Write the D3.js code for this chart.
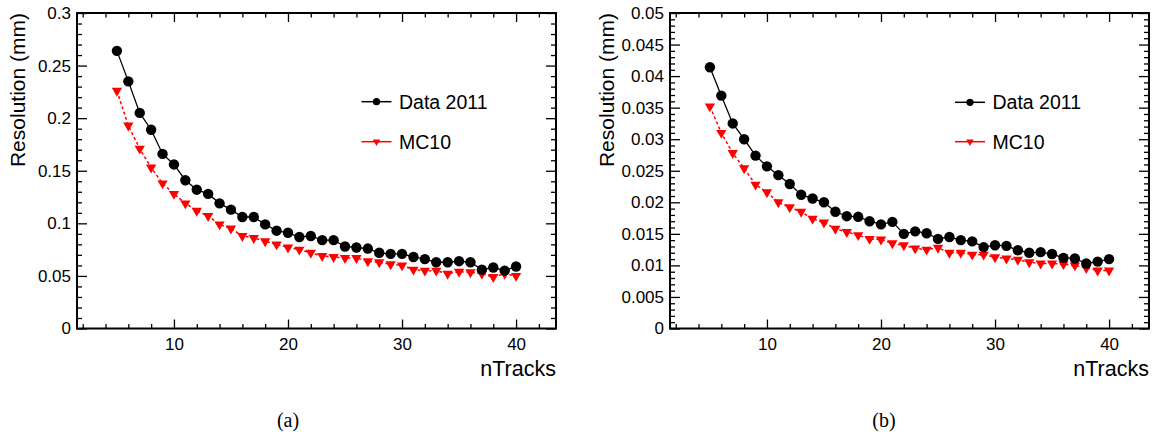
<!DOCTYPE html>
<html><head><meta charset="utf-8">
<script src="https://cdn.jsdelivr.net/npm/d3@7"></script>
<style>body{margin:0;background:#fff} svg{display:block}</style>
</head><body>
<svg id="c" width="1163" height="436"></svg>
<script>
// ---------- data ----------
const nTracks = [5,6,7,8,9,10,11,12,13,14,15,16,17,18,19,20,21,22,23,24,25,26,27,28,29,30,31,32,33,34,35,36,37,38,39,40];
const dataA = [0.264,0.235,0.205,0.189,0.166,0.156,0.141,0.132,0.128,0.119,0.113,0.106,0.106,0.099,0.093,0.091,0.087,0.088,0.084,0.084,0.078,0.077,0.076,0.072,0.071,0.071,0.068,0.066,0.063,0.063,0.064,0.063,0.056,0.058,0.055,0.059];
const mcA   = [0.226,0.193,0.171,0.153,0.138,0.128,0.119,0.112,0.107,0.099,0.095,0.088,0.086,0.083,0.080,0.077,0.075,0.072,0.069,0.068,0.067,0.067,0.064,0.063,0.061,0.060,0.056,0.055,0.055,0.052,0.054,0.0535,0.052,0.049,0.052,0.050];
const dataB = [0.0414,0.0369,0.0325,0.0300,0.0274,0.0257,0.0243,0.0229,0.0212,0.0206,0.0200,0.0185,0.0178,0.0177,0.0170,0.0165,0.0169,0.0150,0.0154,0.0151,0.0142,0.0145,0.0140,0.0138,0.0129,0.0132,0.0131,0.0124,0.0120,0.0121,0.0118,0.0112,0.0111,0.0103,0.0106,0.0110];
const mcB   = [0.0352,0.0310,0.0278,0.0254,0.0228,0.0216,0.0200,0.0192,0.0185,0.0174,0.0168,0.0158,0.0153,0.0148,0.0142,0.0141,0.0135,0.0132,0.0127,0.0125,0.0128,0.0120,0.0120,0.0117,0.0117,0.0113,0.0111,0.0109,0.0105,0.0103,0.0103,0.0102,0.0100,0.0096,0.0092,0.0092];
const xTickLabels  = ["10","20","30","40"];
const yTickLabelsA = ["0","0.05","0.1","0.15","0.2","0.25","0.3"];
const yTickLabelsB = ["0","0.005","0.01","0.015","0.02","0.025","0.03","0.035","0.04","0.045","0.05"];
const seriesNames  = ["Data 2011","MC10"];
const panelLabels  = ["(a)","(b)"];
const xTitle = "nTracks";
const yTitle = "Resolution (mm)";

// ---------- layout ----------
const svg = d3.select("#c");
const FONT = "'Liberation Sans', Arial, Helvetica, sans-serif";
const frameTop = 13, frameBottom = 328.5, W = 479;
const panels = [
  {x0:77,  data:dataA, mc:mcA, yMax:0.3,  yLabels:yTickLabelsA, yMinor:0.01,  legX:376.5, legY:[101.7,141.7], titleX:17.5, cap:panelLabels[0], capX:288},
  {x0:670, data:dataB, mc:mcB, yMax:0.05, yLabels:yTickLabelsB, yMinor:0.001, legX:970,   legY:[102.3,141.7], titleX:607,  cap:panelLabels[1], capX:884}
];

const triangle = d3.symbol().type(d3.symbolTriangle);

panels.forEach(p => {
  const g = svg.append("g");
  const x = d3.scaleLinear().domain([1.5, 43.5]).range([p.x0, p.x0 + W]);
  const y = d3.scaleLinear().domain([0, p.yMax]).range([frameBottom, frameTop]);
  const xMajor = xTickLabels.map(Number);
  const xMinor = d3.range(2, 44, 2).filter(v => !xMajor.includes(v));
  const yMajor = p.yLabels.map(Number);
  const nMin = Math.round(p.yMax / p.yMinor);
  const yMinor = d3.range(0, nMin + 1).map(i => +(i * p.yMinor).toFixed(6))
                   .filter(v => !yMajor.some(m => Math.abs(m - v) < 1e-9));
  const fmtY = d => p.yLabels[yMajor.indexOf(d)];

  function styleAxis(sel) {
    sel.select(".domain").remove();
    sel.selectAll("line").attr("stroke", "#000").attr("stroke-width", 1.3);
    sel.selectAll("text").attr("fill", "#000").style("font-family", FONT).style("font-size", "17px");
  }
  // bottom
  g.append("g").attr("transform", `translate(0,${frameBottom})`)
    .call(d3.axisBottom(x).tickValues(xMajor).tickSize(-9).tickPadding(9).tickFormat(d => String(d))).call(styleAxis);
  g.append("g").attr("transform", `translate(0,${frameBottom})`)
    .call(d3.axisBottom(x).tickValues(xMinor).tickSize(-4.5).tickFormat("")).call(styleAxis);
  // top
  g.append("g").attr("transform", `translate(0,${frameTop})`)
    .call(d3.axisTop(x).tickValues(xMajor).tickSize(-9).tickFormat("")).call(styleAxis);
  g.append("g").attr("transform", `translate(0,${frameTop})`)
    .call(d3.axisTop(x).tickValues(xMinor).tickSize(-4.5).tickFormat("")).call(styleAxis);
  // left
  g.append("g").attr("transform", `translate(${p.x0},0)`)
    .call(d3.axisLeft(y).tickValues(yMajor).tickSize(-10).tickPadding(6).tickFormat(fmtY)).call(styleAxis);
  g.append("g").attr("transform", `translate(${p.x0},0)`)
    .call(d3.axisLeft(y).tickValues(yMinor).tickSize(-5).tickFormat("")).call(styleAxis);
  // right
  g.append("g").attr("transform", `translate(${p.x0 + W},0)`)
    .call(d3.axisRight(y).tickValues(yMajor).tickSize(-10).tickFormat("")).call(styleAxis);
  g.append("g").attr("transform", `translate(${p.x0 + W},0)`)
    .call(d3.axisRight(y).tickValues(yMinor).tickSize(-5).tickFormat("")).call(styleAxis);

  // frame
  g.append("rect").attr("x", p.x0).attr("y", frameTop).attr("width", W).attr("height", frameBottom - frameTop)
    .attr("fill", "none").attr("stroke", "#000").attr("stroke-width", 2);

  // titles
  g.append("text").attr("x", p.x0 + W).attr("y", 376).attr("text-anchor", "end")
    .style("font-family", FONT).style("font-size", "21.5px").text(xTitle);
  g.append("text").attr("transform", `translate(${p.titleX},${frameTop}) rotate(-90)`)
    .attr("text-anchor", "end").attr("dy", "0.35em")
    .style("font-family", FONT).style("font-size", "21px").text(yTitle);

  // series lines
  const line = d3.line().x((d, i) => x(nTracks[i])).y(d => y(d));
  g.append("path").datum(p.mc).attr("d", line).attr("fill", "none")
    .attr("stroke", "#ff0000").attr("stroke-width", 1.5).attr("stroke-dasharray", "3,2.5");
  g.append("path").datum(p.data).attr("d", line).attr("fill", "none")
    .attr("stroke", "#000").attr("stroke-width", 1.3);

  // markers
  g.selectAll(".mc").data(p.mc).enter().append("path")
    .attr("d", triangle.size(46)())
    .attr("transform", (d, i) => `translate(${x(nTracks[i])},${y(d)}) rotate(180)`)
    .attr("fill", "#ff0000");
  g.selectAll(".dt").data(p.data).enter().append("circle")
    .attr("cx", (d, i) => x(nTracks[i])).attr("cy", d => y(d)).attr("r", 5.2).attr("fill", "#000");

  // legend
  const leg = g.append("g");
  [0, 1].forEach(k => {
    const ly = p.legY[k];
    leg.append("line").attr("x1", p.legX - 15).attr("x2", p.legX + 15).attr("y1", ly).attr("y2", ly)
      .attr("stroke", k === 0 ? "#000" : "#ff0000").attr("stroke-width", 1.5);
    if (k === 0) {
      leg.append("circle").attr("cx", p.legX).attr("cy", ly).attr("r", 3.6).attr("fill", "#000");
    } else {
      leg.append("path").attr("d", triangle.size(24)())
        .attr("transform", `translate(${p.legX},${ly}) rotate(180)`).attr("fill", "#ff0000");
    }
    leg.append("text").attr("x", p.legX + 22.5).attr("y", ly).attr("dy", "0.36em")
      .style("font-family", FONT).style("font-size", "19.5px").text(seriesNames[k]);
  });

  // caption
  svg.append("text").attr("x", p.capX).attr("y", 427).attr("text-anchor", "middle")
    .style("font-family", "'Liberation Serif', 'DejaVu Serif', serif").style("font-size", "20px").text(p.cap);
});
</script>
</body></html>
